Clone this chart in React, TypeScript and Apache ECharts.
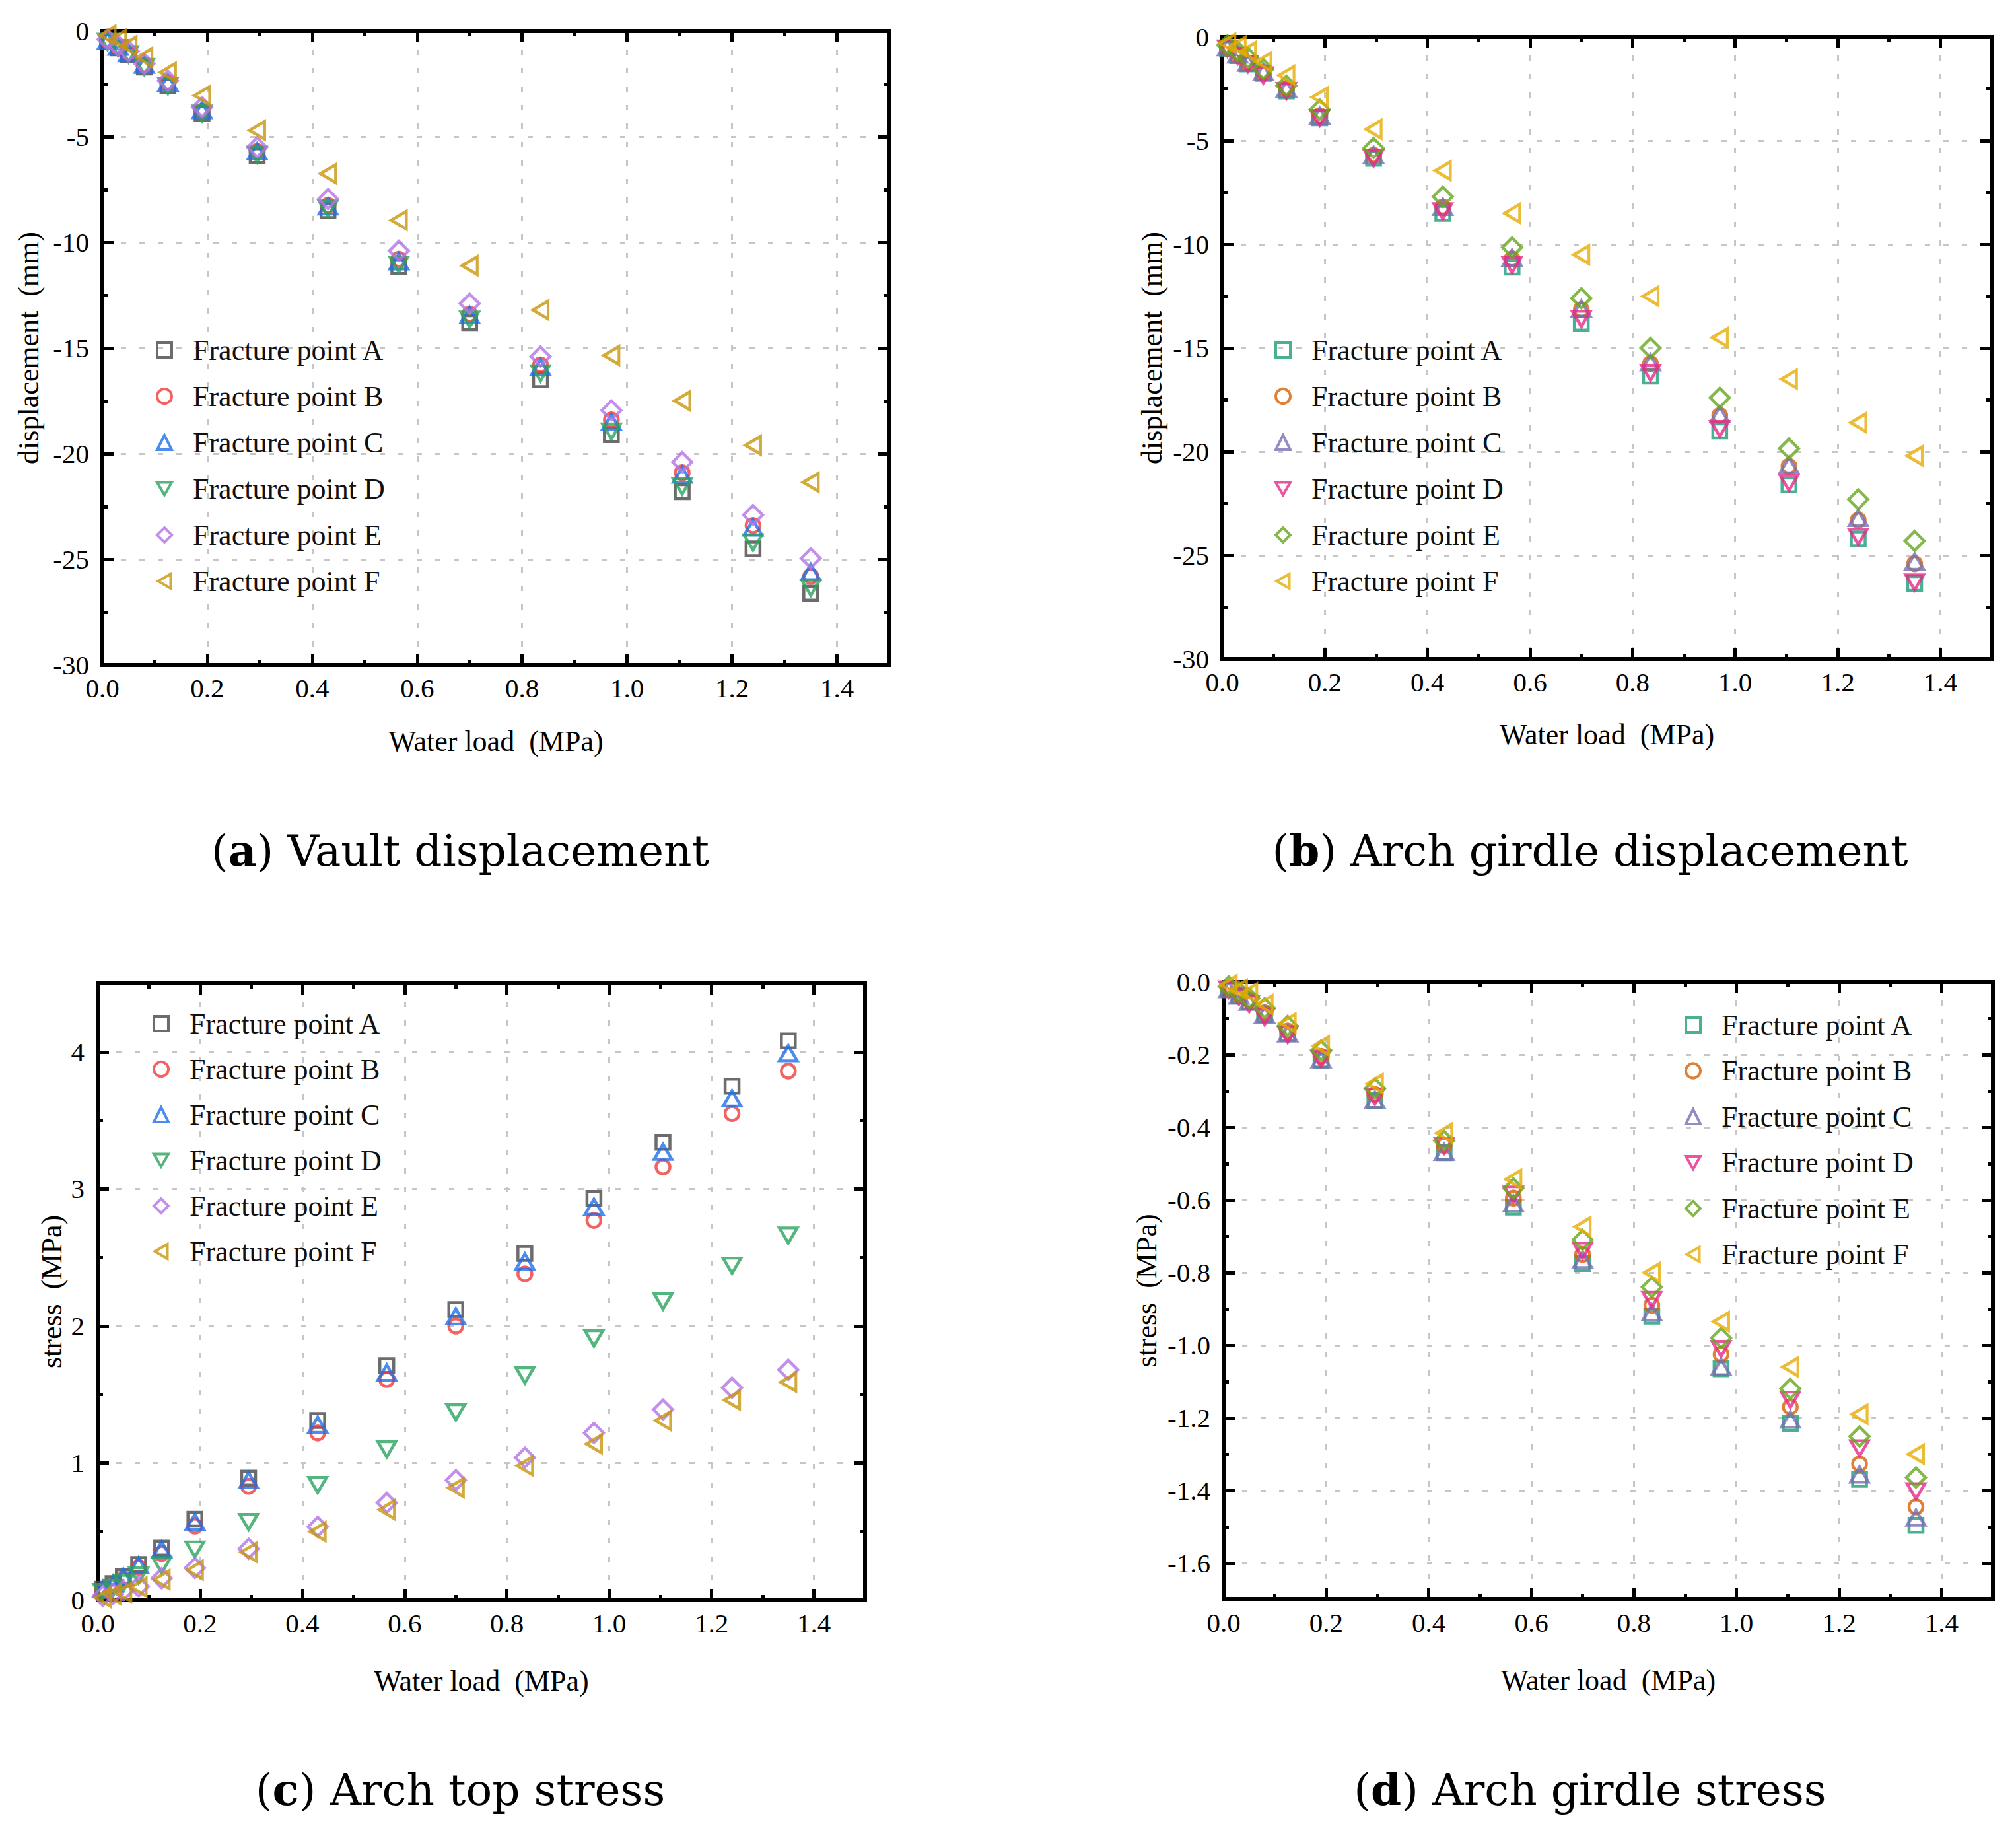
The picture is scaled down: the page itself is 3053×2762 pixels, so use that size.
import React, { useEffect, useRef } from 'react';
import * as echarts from 'echarts';

// ---------- data ----------
const LOAD = [0.01, 0.03, 0.05, 0.08, 0.125, 0.19, 0.295, 0.43, 0.565, 0.7, 0.835, 0.97, 1.105, 1.24, 1.35];

const NAMES = ['Fracture point A', 'Fracture point B', 'Fracture point C', 'Fracture point D', 'Fracture point E', 'Fracture point F'];

// (a) Vault displacement (mm)
const VAULT_A = [-0.5, -0.8, -1.1, -1.7, -2.6, -3.9, -5.9, -8.5, -11.15, -13.8, -16.5, -19.1, -21.8, -24.5, -26.6];
const VAULT_B = [-0.45, -0.75, -1.05, -1.6, -2.45, -3.8, -5.7, -8.25, -10.8, -13.4, -15.8, -18.4, -20.9, -23.4, -25.8];
const VAULT_C = [-0.45, -0.75, -1.05, -1.6, -2.45, -3.75, -5.7, -8.3, -10.9, -13.45, -15.9, -18.5, -21.0, -23.5, -25.6];
const VAULT_D = [-0.5, -0.8, -1.1, -1.7, -2.6, -3.9, -5.85, -8.4, -11.05, -13.65, -16.2, -18.95, -21.55, -24.2, -26.35];
const VAULT_E = [-0.4, -0.7, -0.95, -1.55, -2.35, -3.6, -5.5, -7.95, -10.4, -12.9, -15.4, -17.95, -20.4, -22.9, -24.95];
const VAULT_F = [-0.2, -0.4, -0.7, -1.25, -1.95, -3.05, -4.7, -6.75, -8.95, -11.1, -13.2, -15.35, -17.5, -19.6, -21.35];

// (b) Arch girdle displacement (mm)
const GIRD_A = [-0.55, -0.9, -1.3, -1.75, -2.6, -3.9, -5.85, -8.5, -11.1, -13.8, -16.35, -19.0, -21.6, -24.2, -26.35];
const GIRD_B = [-0.5, -0.85, -1.25, -1.7, -2.5, -3.8, -5.7, -8.2, -10.7, -13.15, -15.75, -18.25, -20.7, -23.3, -25.4];
const GIRD_C = [-0.5, -0.85, -1.25, -1.7, -2.5, -3.8, -5.7, -8.2, -10.65, -13.1, -15.7, -18.2, -20.65, -23.2, -25.3];
const GIRD_D = [-0.55, -0.9, -1.3, -1.85, -2.6, -3.9, -5.85, -8.4, -11.0, -13.6, -16.2, -18.9, -21.5, -24.1, -26.3];
const GIRD_E = [-0.4, -0.7, -1.0, -1.55, -2.35, -3.5, -5.35, -7.7, -10.15, -12.6, -15.0, -17.4, -19.85, -22.3, -24.3];
const GIRD_F = [-0.3, -0.45, -0.7, -1.2, -1.85, -2.9, -4.45, -6.45, -8.5, -10.5, -12.5, -14.5, -16.5, -18.6, -20.2];

// (c) Arch top stress (MPa)
const TOP_A = [0.08, 0.12, 0.17, 0.26, 0.38, 0.59, 0.89, 1.31, 1.71, 2.12, 2.53, 2.93, 3.34, 3.75, 4.08];
const TOP_B = [0.07, 0.11, 0.15, 0.24, 0.34, 0.54, 0.83, 1.22, 1.61, 2.0, 2.38, 2.77, 3.16, 3.55, 3.86];
const TOP_C = [0.08, 0.12, 0.17, 0.255, 0.37, 0.57, 0.875, 1.28, 1.66, 2.07, 2.47, 2.87, 3.27, 3.66, 3.99];
const TOP_D = [0.06, 0.09, 0.125, 0.18, 0.255, 0.37, 0.57, 0.84, 1.1, 1.37, 1.64, 1.91, 2.18, 2.44, 2.66];
const TOP_E = [0.03, 0.045, 0.07, 0.1, 0.16, 0.235, 0.375, 0.535, 0.71, 0.875, 1.04, 1.22, 1.39, 1.55, 1.68];
const TOP_F = [0.02, 0.04, 0.055, 0.095, 0.15, 0.22, 0.35, 0.5, 0.66, 0.82, 0.98, 1.14, 1.31, 1.46, 1.59];

// (d) Arch girdle stress (MPa)
const GS_A = [-0.02, -0.038, -0.055, -0.09, -0.142, -0.215, -0.327, -0.47, -0.62, -0.775, -0.92, -1.065, -1.215, -1.369, -1.496];
const GS_B = [-0.018, -0.035, -0.05, -0.085, -0.135, -0.205, -0.31, -0.45, -0.595, -0.75, -0.89, -1.025, -1.17, -1.327, -1.445];
const GS_C = [-0.02, -0.038, -0.055, -0.09, -0.142, -0.213, -0.325, -0.468, -0.61, -0.765, -0.91, -1.06, -1.205, -1.356, -1.475];
const GS_D = [-0.02, -0.04, -0.06, -0.096, -0.145, -0.211, -0.315, -0.45, -0.585, -0.74, -0.875, -1.01, -1.15, -1.284, -1.402];
const GS_E = [-0.012, -0.028, -0.045, -0.072, -0.121, -0.189, -0.293, -0.437, -0.568, -0.71, -0.84, -0.98, -1.12, -1.251, -1.364];
const GS_F = [-0.008, -0.02, -0.03, -0.062, -0.113, -0.176, -0.28, -0.416, -0.543, -0.674, -0.8, -0.935, -1.06, -1.19, -1.3];

// tick values
const X_MAJOR = [0, 0.2, 0.4, 0.6, 0.8, 1.0, 1.2, 1.4];
const Y_DISP_MAJOR = [-30, -25, -20, -15, -10, -5, 0];
const Y_TOP_MAJOR = [0, 1, 2, 3, 4];
const Y_GS_MAJOR = [-1.6, -1.4, -1.2, -1.0, -0.8, -0.6, -0.4, -0.2, 0];

// ---------- styles ----------
const COLORS_AC = ['#474747', '#f03a3a', '#1f6fe8', '#2aa35e', '#b374e6', '#c8960c'];
const COLORS_BD = ['#1b9e77', '#d95f02', '#7570b3', '#e7298a', '#66a61e', '#e6ab02'];
const SYMBOLS = ['rect', 'circle', 'triangle', 'path://M0,0L10,0L5,8.66Z', 'diamond', 'path://M0,5L8.66,0L8.66,10Z'];
const SIZES: any[] = [21, 21, [27, 23], [27, 23], [29, 29], [23, 27]];

const SERIF = 'Liberation Serif';
const CAPTION_FONT = 'DejaVu Serif';

const PANELS = [
  {
    key: 'a', grid: { left: 155, top: 47, width: 1192, height: 960 },
    yMin: -30, yMax: 0, yMajor: Y_DISP_MAJOR, yMinor: 2.5, yFmt: (v: number) => String(v),
    yName: 'displacement \u00a0(mm)', yNameGap: 90, xNameGap: 93,
    series: [VAULT_A, VAULT_B, VAULT_C, VAULT_D, VAULT_E, VAULT_F], colors: COLORS_AC,
    legend: { left: 236, top: 508, gap: 26 },
    caption: { letter: 'a', title: 'Vault displacement', x: 697, y: 1288 },
  },
  {
    key: 'b', grid: { left: 1851, top: 56, width: 1165, height: 942 },
    yMin: -30, yMax: 0, yMajor: Y_DISP_MAJOR, yMinor: 2.5, yFmt: (v: number) => String(v),
    yName: 'displacement \u00a0(mm)', yNameGap: 85, xNameGap: 92,
    series: [GIRD_A, GIRD_B, GIRD_C, GIRD_D, GIRD_E, GIRD_F], colors: COLORS_BD,
    legend: { left: 1930, top: 508, gap: 26 },
    caption: { letter: 'b', title: 'Arch girdle displacement', x: 2408, y: 1288 },
  },
  {
    key: 'c', grid: { left: 148, top: 1489, width: 1162, height: 934 },
    yMin: 0, yMax: 4.5, yMajor: Y_TOP_MAJOR, yMinor: 0.5, yFmt: (v: number) => String(v),
    yName: 'stress \u00a0(MPa)', yNameGap: 48, xNameGap: 100,
    series: [TOP_A, TOP_B, TOP_C, TOP_D, TOP_E, TOP_F], colors: COLORS_AC,
    legend: { left: 231, top: 1528, gap: 25 },
    caption: { letter: 'c', title: 'Arch top stress', x: 697, y: 2710 },
  },
  {
    key: 'd', grid: { left: 1853, top: 1487, width: 1165, height: 935 },
    yMin: -1.7, yMax: 0, yMajor: Y_GS_MAJOR, yMinor: 0.1, yFmt: (v: number) => v.toFixed(1),
    yName: 'stress \u00a0(MPa)', yNameGap: 95, xNameGap: 100,
    series: [GS_A, GS_B, GS_C, GS_D, GS_E, GS_F], colors: COLORS_BD,
    legend: { left: 2551, top: 1530, gap: 25.5 },
    caption: { letter: 'd', title: 'Arch girdle stress', x: 2408, y: 2710 },
  },
];

function buildOption() {
  const grid: any[] = [];
  const xAxis: any[] = [];
  const yAxis: any[] = [];
  const series: any[] = [];
  const legend: any[] = [];
  const graphic: any[] = [];

  const line = { color: '#000', width: 6, cap: 'square' };
  const tickMajor = { color: '#000', width: 5 };
  const splitStyle = { color: '#c6c6c6', width: 3, type: [8, 20] };
  const labelStyle = { fontFamily: SERIF, fontSize: 41, color: '#000' };
  const nameStyle = { fontFamily: SERIF, fontSize: 44, color: '#000' };

  PANELS.forEach((p, i) => {
    grid.push({ ...p.grid, containLabel: false });
    grid.push({ ...p.grid, containLabel: false });
    const gMaj = 2 * i;
    const gMin = 2 * i + 1;

    // x axes
    xAxis.push({
      type: 'value', gridIndex: gMaj, position: 'bottom', min: 0, max: 1.5,
      axisLine: { show: true, onZero: false, lineStyle: line },
      axisTick: { show: true, inside: true, length: 17, lineStyle: tickMajor, customValues: X_MAJOR },
      axisLabel: { show: true, customValues: X_MAJOR, formatter: (v: number) => v.toFixed(1), margin: 14, ...labelStyle },
      splitLine: { show: true, lineStyle: splitStyle },
      minorTick: { show: false },
      name: 'Water load \u00a0(MPa)', nameLocation: 'middle', nameGap: p.xNameGap, nameTextStyle: nameStyle,
    });
    xAxis.push({
      type: 'value', gridIndex: gMaj, position: 'top', min: 0, max: 1.5,
      axisLine: { show: true, onZero: false, lineStyle: line },
      axisTick: { show: true, inside: true, length: 17, lineStyle: tickMajor, customValues: X_MAJOR },
      axisLabel: { show: false }, splitLine: { show: false },
    });
    xAxis.push({
      type: 'value', gridIndex: gMin, position: 'bottom', min: 0, max: 1.5, interval: 0.1,
      axisLine: { show: false, onZero: false },
      axisTick: { show: true, inside: true, length: 8, lineStyle: tickMajor },
      axisLabel: { show: false }, splitLine: { show: false },
    });
    xAxis.push({
      type: 'value', gridIndex: gMin, position: 'top', min: 0, max: 1.5, interval: 0.1,
      axisLine: { show: false, onZero: false },
      axisTick: { show: true, inside: true, length: 8, lineStyle: tickMajor },
      axisLabel: { show: false }, splitLine: { show: false },
    });

    // y axes
    yAxis.push({
      type: 'value', gridIndex: gMaj, position: 'left', min: p.yMin, max: p.yMax,
      axisLine: { show: true, onZero: false, lineStyle: line },
      axisTick: { show: true, inside: true, length: 17, lineStyle: tickMajor, customValues: p.yMajor },
      axisLabel: { show: true, customValues: p.yMajor, formatter: p.yFmt, margin: 20, ...labelStyle },
      splitLine: { show: true, lineStyle: splitStyle },
      minorTick: { show: false },
      name: p.yName, nameLocation: 'middle', nameGap: p.yNameGap, nameTextStyle: nameStyle,
    });
    yAxis.push({
      type: 'value', gridIndex: gMaj, position: 'right', min: p.yMin, max: p.yMax,
      axisLine: { show: true, onZero: false, lineStyle: line },
      axisTick: { show: true, inside: true, length: 17, lineStyle: tickMajor, customValues: p.yMajor },
      axisLabel: { show: false }, splitLine: { show: false },
    });
    yAxis.push({
      type: 'value', gridIndex: gMin, position: 'left', min: p.yMin, max: p.yMax, interval: p.yMinor,
      axisLine: { show: false, onZero: false },
      axisTick: { show: true, inside: true, length: 8, lineStyle: tickMajor },
      axisLabel: { show: false }, splitLine: { show: false },
    });
    yAxis.push({
      type: 'value', gridIndex: gMin, position: 'right', min: p.yMin, max: p.yMax, interval: p.yMinor,
      axisLine: { show: false, onZero: false },
      axisTick: { show: true, inside: true, length: 8, lineStyle: tickMajor },
      axisLabel: { show: false }, splitLine: { show: false },
    });

    const names: string[] = [];
    p.series.forEach((vals, j) => {
      const name = `${p.key}|${NAMES[j]}`;
      names.push(name);
      series.push({
        type: 'scatter', name, xAxisIndex: 4 * i, yAxisIndex: 4 * i,
        data: LOAD.map((x, k) => [x, vals[k]]),
        symbol: SYMBOLS[j], symbolSize: SIZES[j],
        itemStyle: { color: 'rgba(0,0,0,0)', borderColor: p.colors[j], borderWidth: 4.5 },
        emphasis: { disabled: true },
        clip: false, z: 3 + j,
      });
    });

    legend.push({
      orient: 'vertical', left: p.legend.left, top: p.legend.top, padding: 0,
      itemGap: p.legend.gap, itemWidth: 22, itemHeight: 22, selectedMode: false,
      data: names,
      formatter: (n: string) => n.split('|')[1],
      itemStyle: { borderWidth: 4 },
      textStyle: { fontFamily: SERIF, fontSize: 44, color: '#111', lineHeight: 44, padding: [0, 0, 0, 27] },
    });

    graphic.push({
      type: 'text', x: p.caption.x, y: p.caption.y,
      style: {
        text: `({b|${p.caption.letter}}) ${p.caption.title}`,
        fontFamily: CAPTION_FONT, fontSize: 66, fill: '#000',
        align: 'center', verticalAlign: 'middle',
        rich: { b: { fontFamily: CAPTION_FONT, fontSize: 66, fontWeight: 'bold', fill: '#000' } },
      },
    });
  });

  return {
    animation: false,
    backgroundColor: '#ffffff',
    grid, xAxis, yAxis, series, legend, graphic,
  };
}

export default function App() {
  const ref = useRef<HTMLDivElement>(null);
  useEffect(() => {
    if (!ref.current) return;
    const chart = echarts.init(ref.current, null, { renderer: 'svg', width: 3053, height: 2762 });
    chart.setOption(buildOption() as any);
    return () => chart.dispose();
  }, []);
  return (
    <div
      ref={ref}
      style={{ position: 'absolute', left: 0, top: 0, width: 3053, height: 2762, background: '#fff' }}
    />
  );
}
